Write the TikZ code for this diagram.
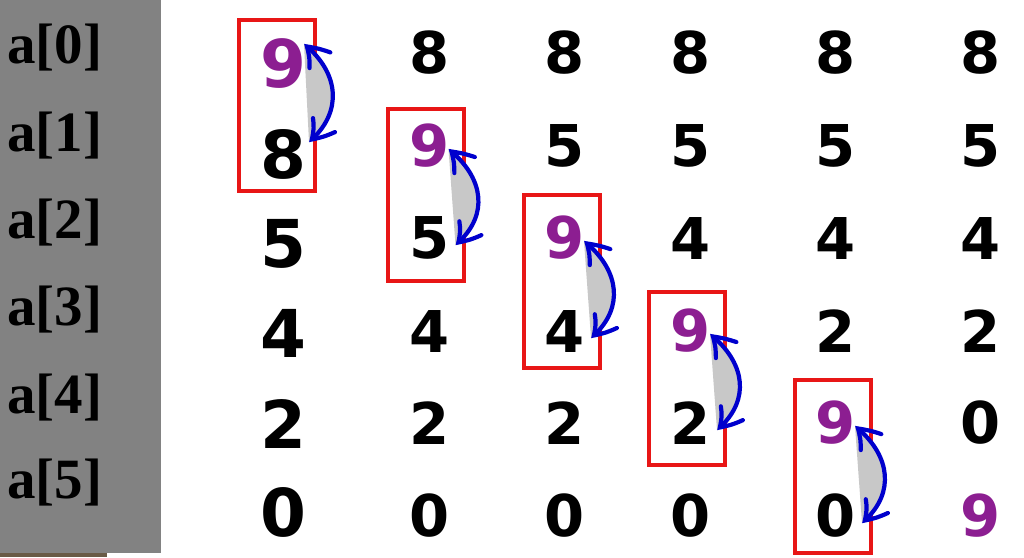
\documentclass[tikz,border=0pt]{standalone}
\usepackage{fontspec}
\newfontfamily\digitfont{DejaVu Sans}
\newfontfamily\labfont{Liberation Serif}
\usetikzlibrary{arrows.meta,calc,bending}
\definecolor{panelgray}{RGB}{130,130,130}
\definecolor{stripbrown}{RGB}{105,90,70}
\definecolor{hlpurple}{RGB}{140,30,145}
\definecolor{boxred}{RGB}{232,22,22}
\definecolor{arrowblue}{RGB}{0,0,205}
\definecolor{lensgray}{RGB}{200,200,200}
\newcommand\swapcurve[2]{%
  \fill[lensfill] (#1) .. controls +(36,29) and +(34,-29) .. (#2) -- cycle;
  \draw[swaparrow] (#1) .. controls +(36,29) and +(34,-29) .. (#2);}
\begin{document}
\begin{tikzpicture}[x=1pt,y=-1pt,
  digitnode/.style={inner sep=0pt, font=\digitfont\bfseries\fontsize{57.6}{60}\selectfont},
  bigdigit/.style={inner sep=0pt, font=\digitfont\bfseries\fontsize{66}{70}\selectfont},
  labelnode/.style={inner sep=0pt, anchor=base west, font=\labfont\bfseries\fontsize{57}{60}\selectfont},
  hl/.style={text=hlpurple},
  boxframe/.style={draw=boxred, line width=4pt},
  swaparrow/.style={draw=arrowblue, line width=4.2pt, line cap=round,
    {Straight Barb[length=20pt,width=26pt,line cap=round,bend]}-{Straight Barb[length=20pt,width=26pt,line cap=round,bend]}},
  lensfill/.style={fill=lensgray}]
\useasboundingbox (0,0) rectangle (1024,557);
\fill[white] (0,0) rectangle (1024,557);
\fill[panelgray] (0,0) rectangle (161,553);
\fill[stripbrown] (0,553) rectangle (107,557);
% labels
\node[labelnode] (l0) at (7,63) {a[0]};
\node[labelnode] (l1) at (7,151) {a[1]};
\node[labelnode] (l2) at (7,238) {a[2]};
\node[labelnode] (l3) at (7,325) {a[3]};
\node[labelnode] (l4) at (7,413) {a[4]};
\node[labelnode] (l5) at (7,498) {a[5]};
% column 0
\node[bigdigit,hl] (c0r0) at (283,64) {9};
\node[bigdigit] (c0r1) at (283,154) {8};
\node[bigdigit] (c0r2) at (283,244) {5};
\node[bigdigit] (c0r3) at (283,333) {4};
\node[bigdigit] (c0r4) at (283,424) {2};
\node[bigdigit] (c0r5) at (283,512) {0};
% column 1
\node[digitnode] (c1r0) at (429.5,53) {8};
\node[digitnode,hl] (c1r1) at (429.5,146) {9};
\node[digitnode] (c1r2) at (429.5,238) {5};
\node[digitnode] (c1r3) at (429.5,331) {4};
\node[digitnode] (c1r4) at (429.5,423) {2};
\node[digitnode] (c1r5) at (429.5,516) {0};
% column 2
\node[digitnode] (c2r0) at (565,53) {8};
\node[digitnode] (c2r1) at (565,146) {5};
\node[digitnode,hl] (c2r2) at (565,238) {9};
\node[digitnode] (c2r3) at (565,331) {4};
\node[digitnode] (c2r4) at (565,423) {2};
\node[digitnode] (c2r5) at (565,516) {0};
% column 3
\node[digitnode] (c3r0) at (691,53) {8};
\node[digitnode] (c3r1) at (691,146) {5};
\node[digitnode] (c3r2) at (691,238) {4};
\node[digitnode,hl] (c3r3) at (691,331) {9};
\node[digitnode] (c3r4) at (691,423) {2};
\node[digitnode] (c3r5) at (691,516) {0};
% column 4
\node[digitnode] (c4r0) at (836,53) {8};
\node[digitnode] (c4r1) at (836,146) {5};
\node[digitnode] (c4r2) at (836,238) {4};
\node[digitnode] (c4r3) at (836,331) {2};
\node[digitnode,hl] (c4r4) at (836,423) {9};
\node[digitnode] (c4r5) at (836,516) {0};
% column 5
\node[digitnode] (c5r0) at (981,53) {8};
\node[digitnode] (c5r1) at (981,146) {5};
\node[digitnode] (c5r2) at (981,238) {4};
\node[digitnode] (c5r3) at (981,331) {2};
\node[digitnode] (c5r4) at (981,423) {0};
\node[digitnode,hl] (c5r5) at (981,516) {9};
% red frames
\draw[boxframe] (239,20) rectangle (315,191);
\draw[boxframe] (388,109) rectangle (464,281);
\draw[boxframe] (524,195) rectangle (600,368);
\draw[boxframe] (649,292) rectangle (725,465);
\draw[boxframe] (795,380) rectangle (871,553);
% arrow end points
\coordinate (a0) at ($(c0r0)+(21,-20)$);
\coordinate (b0) at ($(c0r1)+(26,-12)$);
\coordinate (a1) at ($(c1r1)+(19,3)$);
\coordinate (b1) at ($(c1r2)+(26,7)$);
\coordinate (a2) at ($(c2r2)+(19,3)$);
\coordinate (b2) at ($(c2r3)+(26,7)$);
\coordinate (a3) at ($(c3r3)+(19,3)$);
\coordinate (b3) at ($(c3r4)+(26,7)$);
\coordinate (a4) at ($(c4r4)+(19,3)$);
\coordinate (b4) at ($(c4r5)+(26,7)$);
\swapcurve{a0}{b0}
\swapcurve{a1}{b1}
\swapcurve{a2}{b2}
\swapcurve{a3}{b3}
\swapcurve{a4}{b4}
\end{tikzpicture}
\end{document}
